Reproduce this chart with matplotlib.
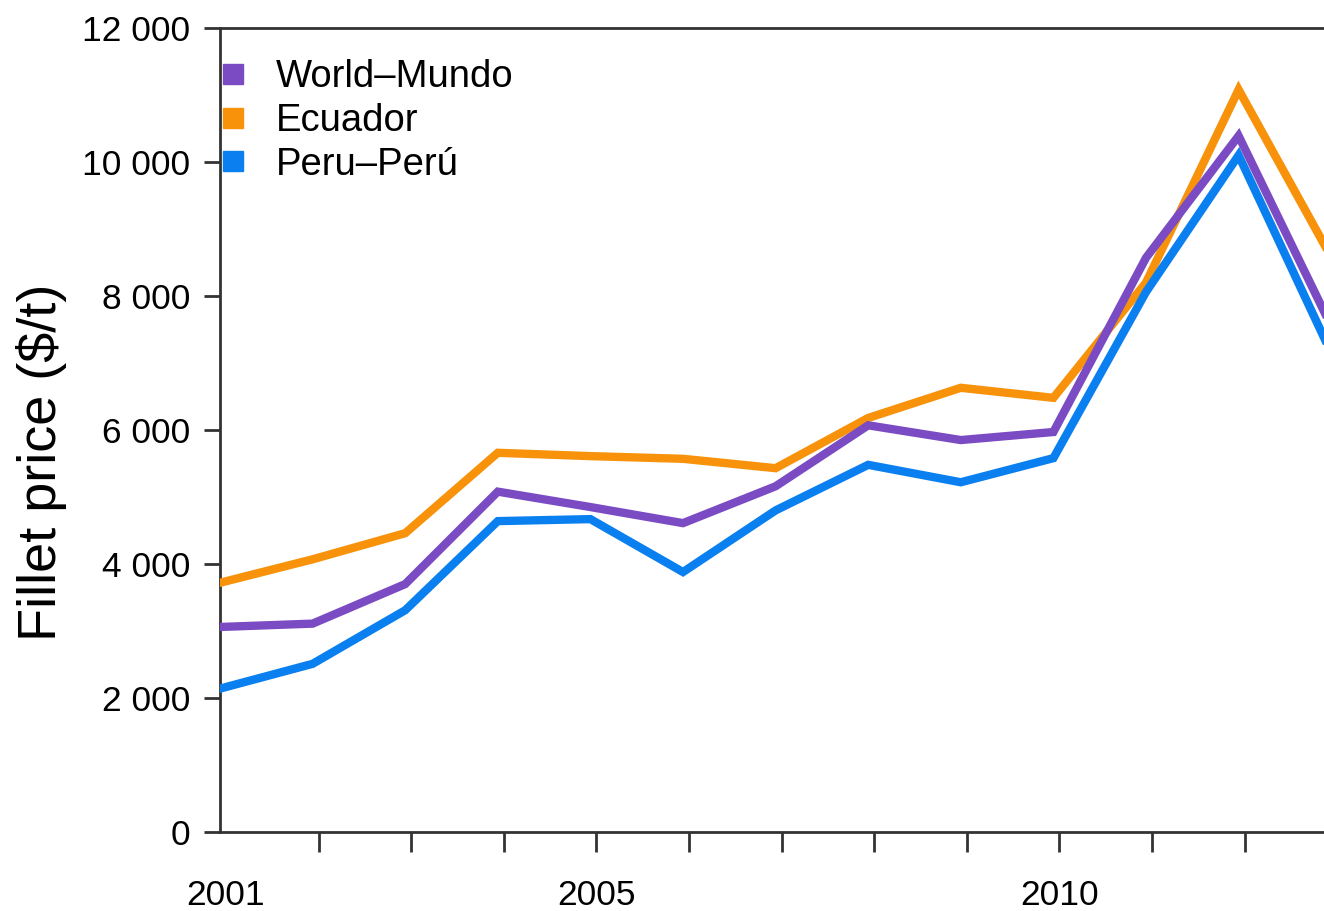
import matplotlib
matplotlib.use('Agg')
import matplotlib.pyplot as plt
from matplotlib.lines import Line2D
from matplotlib.ticker import FuncFormatter

plt.rcParams['font.family'] = ['Liberation Sans', 'DejaVu Sans']

# Fillet prices in $/t
years = [2001, 2002, 2003, 2004, 2005, 2006, 2007, 2008, 2009, 2010, 2011, 2012, 2013]
world = [3060, 3110, 3700, 5080, 4850, 4610, 5160, 6070, 5850, 5970, 8570, 10390, 7550]
ecuador = [3720, 4070, 4460, 5660, 5610, 5570, 5430, 6180, 6630, 6480, 8200, 11080, 8580]
peru = [2140, 2510, 3310, 4640, 4670, 3880, 4800, 5480, 5220, 5580, 8060, 10100, 7150]

series_names = ['World–Mundo', 'Ecuador', 'Peru–Perú']
colors = ['#7b4bc4', '#f7920a', '#0a80f0']
year_labels = {2001: '2001', 2005: '2005', 2010: '2010'}

# the original chart is cropped on the right, so the axes run past the figure edge
px_per_year = 92.6
x_right = 2013.3
fig = plt.figure(figsize=(13.24, 9.11), dpi=100)
ax = fig.add_axes([220 / 1324, 79 / 911, (x_right - 2001) * px_per_year / 1324, 804 / 911])

ax.plot(years, ecuador, color=colors[1], lw=6, solid_joinstyle='miter', zorder=3)
ax.plot(years, peru, color=colors[2], lw=6, solid_joinstyle='miter', zorder=4)
ax.plot(years, world, color=colors[0], lw=6, solid_joinstyle='miter', zorder=5)

# tick marks sit a little to the right of the data points in the original
ax.set_xticks([y + 0.065 for y in years])
ax.set_xticklabels([year_labels.get(y, '') for y in years])
ax.xaxis.get_major_ticks()[0].tick1line.set_visible(False)
ax.set_yticks(range(0, 12001, 2000))
ax.yaxis.set_major_formatter(FuncFormatter(lambda v, p: f'{int(v):,}'.replace(',', ' ')))

# limits after the ticks, so set_xticks does not widen the view
ax.set_xlim(2001, x_right)
ax.set_ylim(0, 12000)

spine_col = '#333333'
for s in ['left', 'bottom', 'top']:
    ax.spines[s].set_linewidth(2)
    ax.spines[s].set_color(spine_col)
ax.spines['right'].set_visible(False)
ax.tick_params(axis='x', length=14.5, width=2, color=spine_col, pad=19, labelsize=25.5, direction='out')
ax.tick_params(axis='y', length=11.5, width=2, color=spine_col, pad=10, labelsize=25.5, direction='out')

fig.text(42 / 1324, 1 - 462 / 911, 'Fillet price ($/t)', rotation=90,
         ha='center', va='center', fontsize=39)

handles = [Line2D([], [], ls='none', marker='s', markersize=14.5, color=c) for c in colors]
ax.legend(handles, series_names, loc='upper left', bbox_to_anchor=(0.0, 0.961),
          frameon=False, fontsize=27.5, handlelength=0.7, handletextpad=0.75,
          labelspacing=0.2, borderpad=0, borderaxespad=0)

fig.savefig('out.png', dpi=100)
